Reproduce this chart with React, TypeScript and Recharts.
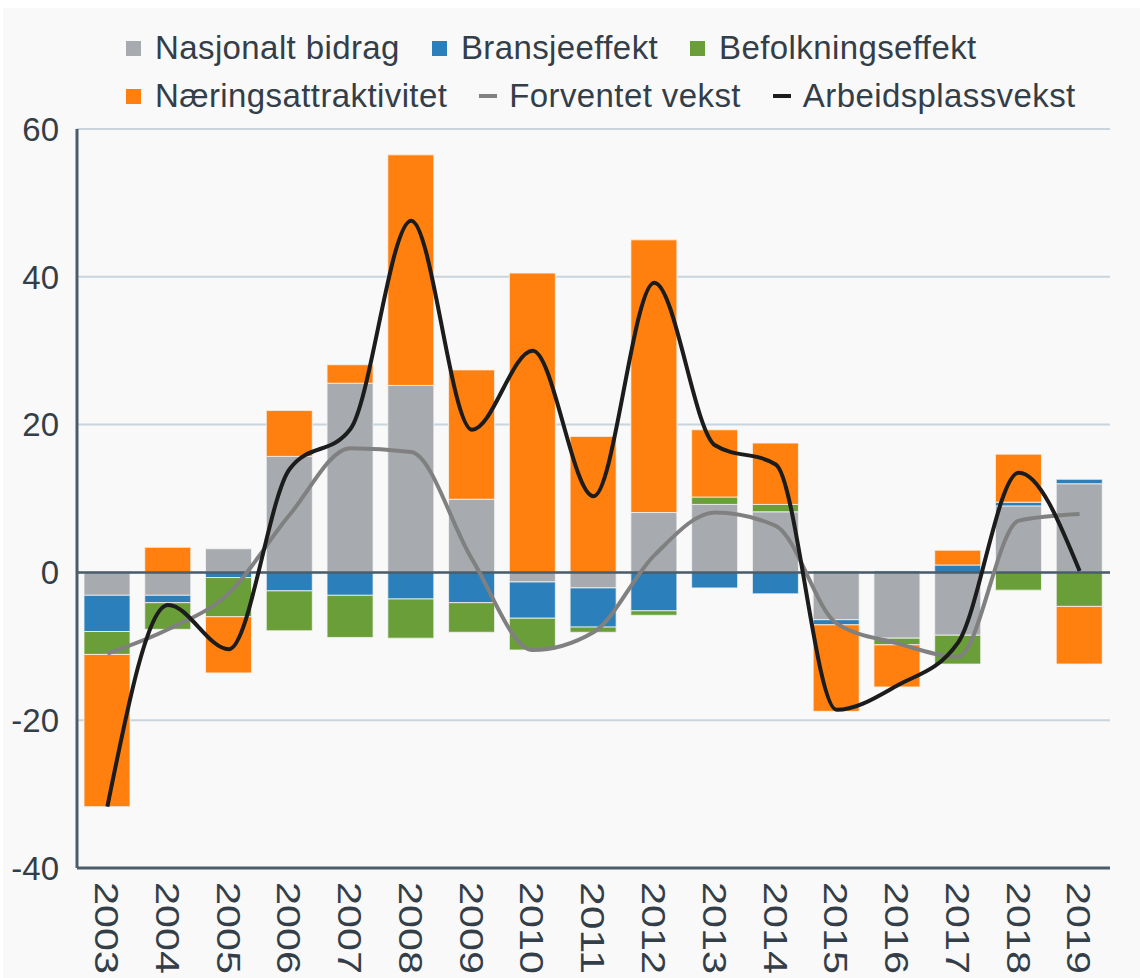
import React from "react";
import {
  ComposedChart,
  Bar,
  Line,
  XAxis,
  YAxis,
  CartesianGrid,
  ReferenceLine,
} from "recharts";

const years = [
  "2003", "2004", "2005", "2006", "2007", "2008", "2009", "2010", "2011",
  "2012", "2013", "2014", "2015", "2016", "2017", "2018", "2019",
];
const nasjonalt = [-3.1, -3.1, 3.2, 15.7, 25.6, 25.3, 9.9, -1.3, -2.1, 8.1, 9.2, 8.2, -6.4, -8.9, -8.5, 9.0, 12.0];
const bransje = [-4.9, -1.0, -0.7, -2.5, -3.1, -3.6, -4.1, -4.9, -5.3, -5.2, -2.1, -2.9, -0.7, 0.2, 1.0, 0.5, 0.6];
const befolkning = [-3.1, -3.6, -5.3, -5.4, -5.7, -5.3, -4.0, -4.3, -0.7, -0.6, 1.0, 1.0, 0.2, -0.9, -3.9, -2.4, -4.6];
const naering = [-20.6, 3.4, -7.6, 6.2, 2.5, 31.2, 17.5, 40.5, 18.4, 36.9, 9.1, 8.3, -11.7, -5.7, 2.0, 6.5, -7.8];
const forventet = [-11.0, -7.7, -2.8, 7.8, 16.8, 16.3, 1.8, -10.5, -8.1, 2.3, 8.1, 6.3, -6.9, -9.6, -11.4, 7.0, 7.9];
const arbeid = [-31.7, -4.4, -10.4, 14.0, 19.4, 47.6, 19.3, 30.0, 10.3, 39.2, 17.2, 14.6, -18.6, -15.3, -9.5, 13.5, 0.2];
const yTicks = [-40, -20, 0, 20, 40, 60];

const seriesNames = [
  "Nasjonalt bidrag",
  "Bransjeeffekt",
  "Befolkningseffekt",
  "Næringsattraktivitet",
  "Forventet vekst",
  "Arbeidsplassvekst",
];
const seriesColors = ["#a7abaf", "#2b7fba", "#699e38", "#ff800e", "#808080", "#1c1c1c"];
const seriesKinds = ["bar", "bar", "bar", "bar", "line", "line"];

const data = years.map((y, i) => ({
  year: y,
  nasjonalt: nasjonalt[i],
  bransje: bransje[i],
  befolkning: befolkning[i],
  naering: naering[i],
  forventet: forventet[i],
  arbeid: arbeid[i],
}));

const TEXT = "#333e48";
const FONT = "'Liberation Sans', Arial, sans-serif";

const XTick = (props: any) => {
  const { x, y, payload } = props;
  return (
    <text
      x={0}
      y={0}
      transform={`translate(${x},${y + 14}) rotate(90)`}
      textAnchor="start"
      dy="0.36em"
      fontSize={34}
      fontFamily={FONT}
      fill={TEXT}
      textLength={92}
      lengthAdjust="spacingAndGlyphs"
    >
      {payload.value}
    </text>
  );
};

const LegendBlock = () => {
  const rows = [
    [0, 1, 2],
    [3, 4, 5],
  ];
  return (
    <div style={{ position: "absolute", left: 126, top: 24, fontFamily: FONT, fontSize: 33, color: TEXT, letterSpacing: 0.4 }}>
      {rows.map((row, ri) => (
        <div key={ri} style={{ display: "flex", alignItems: "center", height: 48, whiteSpace: "nowrap" }}>
          {row.map((idx) => (
            <div key={idx} style={{ display: "flex", alignItems: "center", marginRight: 32 }}>
              {seriesKinds[idx] === "bar" ? (
                <span style={{ display: "inline-block", width: 15, height: 15, background: seriesColors[idx], marginRight: 14 }} />
              ) : (
                <span style={{ display: "inline-block", width: 18, height: 4, background: seriesColors[idx], marginRight: 12 }} />
              )}
              <span>{seriesNames[idx]}</span>
            </div>
          ))}
        </div>
      ))}
    </div>
  );
};

export default function App() {
  return (
    <div style={{ position: "absolute", left: 0, top: 0, width: 1140, height: 978, background: "#ffffff" }}>
      <div style={{ position: "absolute", left: 3, top: 8, width: 1137, height: 970, background: "#f9f9f9" }} />
      <div style={{ position: "absolute", left: 0, top: 0 }}>
        <ComposedChart
          width={1140}
          height={978}
          data={data}
          stackOffset="sign"
          margin={{ top: 129, right: 30, bottom: 0, left: 7 }}
          barSize={46}
        >
          <CartesianGrid vertical={false} stroke="#c9d4dc" strokeWidth={2} />
          <XAxis
            dataKey="year"
            tick={<XTick />}
            tickLine={false}
            tickSize={0}
            tickMargin={0}
            height={110}
            interval={0}
            axisLine={{ stroke: "#4b5d6a", strokeWidth: 3 }}
          />
          <YAxis
            domain={[-40, 60]}
            ticks={yTicks}
            width={70}
            tickLine={false}
            tickSize={0}
            tickMargin={18}
            axisLine={{ stroke: "#4b5d6a", strokeWidth: 3 }}
            tick={{ fontSize: 33, fill: TEXT, fontFamily: FONT }}
            allowDataOverflow
          />
          <ReferenceLine y={0} stroke="#4b5d6a" strokeWidth={2.5} />
          <Bar dataKey="nasjonalt" name={seriesNames[0]} stackId="a" fill={seriesColors[0]} stroke="#f4f4f4" strokeWidth={0.8} isAnimationActive={false} />
          <Bar dataKey="bransje" name={seriesNames[1]} stackId="a" fill={seriesColors[1]} stroke="#f4f4f4" strokeWidth={0.8} isAnimationActive={false} />
          <Bar dataKey="befolkning" name={seriesNames[2]} stackId="a" fill={seriesColors[2]} stroke="#f4f4f4" strokeWidth={0.8} isAnimationActive={false} />
          <Bar dataKey="naering" name={seriesNames[3]} stackId="a" fill={seriesColors[3]} stroke="#f4f4f4" strokeWidth={0.8} isAnimationActive={false} />
          <Line dataKey="forventet" name={seriesNames[4]} type="monotone" stroke={seriesColors[4]} strokeWidth={4} dot={false} activeDot={false} isAnimationActive={false} />
          <Line dataKey="arbeid" name={seriesNames[5]} type="monotone" stroke={seriesColors[5]} strokeWidth={4} dot={false} activeDot={false} isAnimationActive={false} />
        </ComposedChart>
      </div>
      <LegendBlock />
    </div>
  );
}
